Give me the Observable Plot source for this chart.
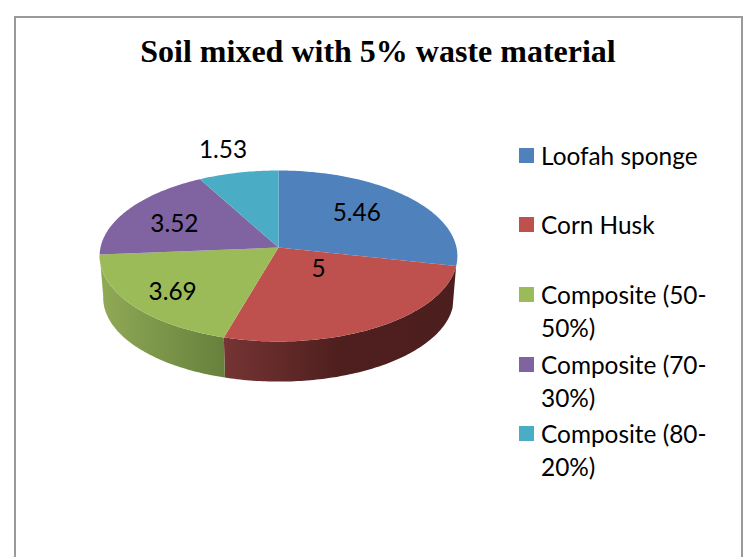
<!DOCTYPE html>
<html>
<head>
<meta charset="utf-8">
<script src="https://cdn.jsdelivr.net/npm/d3@7"></script>
<script src="https://cdn.jsdelivr.net/npm/@observablehq/plot@0.6"></script>
<style>
  html, body { margin: 0; padding: 0; background: #fff; overflow: hidden; }
  #page { position: relative; width: 743px; height: 557px; overflow: hidden; font-family: Lato, sans-serif; color: #000; }
  #frame { position: absolute; left: 14px; top: 16px; width: 725px; height: 600px; border: 2px solid #9a9a9a; box-sizing: content-box; }
  #page svg { position: absolute; left: 0; top: 0; background: transparent; }
  #title { position: absolute; left: 14px; width: 728px; top: 32px; margin: 0; text-align: center;
           font: bold 32px/38px "Liberation Serif", serif; }
  #legend { position: absolute; left: 519px; top: 138.5px; width: 195px; font-size: 24.4px; line-height: 33px; }
  .item { height: 69.7px; display: flex; align-items: flex-start; }
  .swatch { flex: none; width: 15px; height: 15px; margin: 9px 7px 0 0; }
  .item span { display: block; width: 173px; }
</style>
</head>
<body>
<div id="page">
  <div id="frame"></div>
  <h1 id="title"></h1>
  <div id="legend"></div>
</div>
<script>
const titleText = "Soil mixed with 5% waste material";
const categories = ["Loofah sponge", "Corn Husk", "Composite (50-50%)", "Composite (70-30%)", "Composite (80-20%)"];
const values = [5.46, 5, 3.69, 3.52, 1.53];
const topColors = ["#4f81bd", "#be504d", "#9bbb59", "#8064a2", "#4bacc6"];
const wallStops = [
  null,
  ["#763434", "#4e1f1e", "#4c1e1d"],
  ["#90aa57", "#7b9549", "#67803c"],
  null,
  null
];

// Label placement, in pixels away from a point at labelRadius along each slice's middle
const labelRadius = 0.6;
const labelNudgeX = [-2, -17.5, -20, -12.7, -30.5];
const labelNudgeY = [-4, -24, 11.6, 0.5, -50.5];

// Tilted-disc projection: a unit circle seen in perspective
const k = 0.0994;
const project = (angle, r = 1) => {
  const u = r * Math.sin(angle), v = -r * Math.cos(angle), w = 1 - k * v;
  return { x: u / w, y: v / w };
};
const lower = (p) => ({ x: p.x * 0.98, y: p.y * 0.98 + 0.496 });

const total = d3.sum(values);
let acc = 0;
const slices = values.map((value, i) => {
  const a0 = (acc / total) * 2 * Math.PI;
  acc += value;
  const a1 = (acc / total) * 2 * Math.PI;
  const n = Math.ceil((a1 - a0) * 60);
  const arc = d3.range(n + 1).map((j) => project(a0 + ((a1 - a0) * j) / n));
  return { i, value, a0, a1, mid: (a0 + a1) / 2, arc };
});

const marks = [];
// Side wall: only slices facing the viewer
slices.filter((s) => Math.cos(s.mid) < 0).forEach((s) => {
  const pts = [...s.arc, ...s.arc.map(lower).reverse()];
  marks.push(Plot.line(pts, { x: "x", y: "y", fill: `url(#wall${s.i})`, stroke: "none" }));
});
// Top face
slices.forEach((s) => {
  marks.push(Plot.line([{ x: 0, y: 0 }, ...s.arc], { x: "x", y: "y", fill: topColors[s.i], stroke: "none" }));
});
// Value labels
slices.forEach((s) => {
  marks.push(Plot.text([{ ...project(s.mid, labelRadius), label: String(s.value) }], {
    x: "x", y: "y", text: "label", dx: labelNudgeX[s.i], dy: labelNudgeY[s.i],
    fontSize: 24.4, fontFamily: "Lato, sans-serif", fill: "#000", textAnchor: "middle"
  }));
});

const chart = Plot.plot({
  width: 743,
  height: 557,
  margin: 0,
  x: { domain: [-1, 1], range: [100, 456], axis: null },
  y: { domain: [-1, 1], range: [162.35, 331.65], axis: null },
  marks
});

// Gradients for the side wall
const ns = "http://www.w3.org/2000/svg";
const defs = document.createElementNS(ns, "defs");
wallStops.forEach((stops, i) => {
  if (!stops) return;
  const g = document.createElementNS(ns, "linearGradient");
  g.setAttribute("id", `wall${i}`);
  stops.forEach((c, j) => {
    const st = document.createElementNS(ns, "stop");
    st.setAttribute("offset", j === 0 ? "0" : j === 1 ? "0.5" : "1");
    st.setAttribute("stop-color", c);
    g.appendChild(st);
  });
  defs.appendChild(g);
});
chart.insertBefore(defs, chart.firstChild);

const page = document.getElementById("page");
page.insertBefore(chart, document.getElementById("title"));
document.getElementById("title").textContent = titleText;

const legend = document.getElementById("legend");
categories.forEach((c, i) => {
  const item = document.createElement("div");
  item.className = "item";
  const sw = document.createElement("div");
  sw.className = "swatch";
  sw.style.background = topColors[i];
  const label = document.createElement("span");
  label.textContent = c;
  item.append(sw, label);
  legend.appendChild(item);
});
</script>
</body>
</html>
